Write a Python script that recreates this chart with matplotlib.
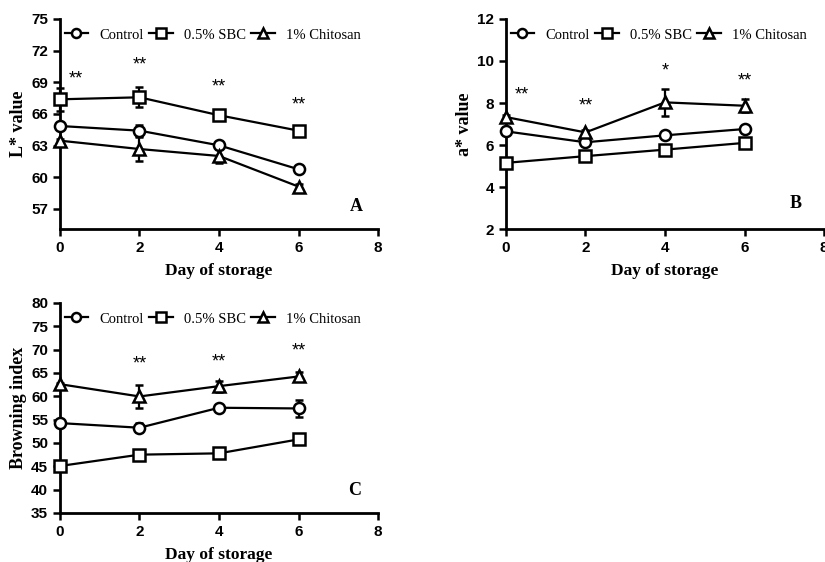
import matplotlib.pyplot as plt
from matplotlib.lines import Line2D
import numpy as np

days = [0, 2, 4, 6]
labels = ['Control', '0.5% SBC', '1% Chitosan']
markers = ['o', 's', '^']

# L* value
L_mean = [[64.86, 64.42, 63.03, 60.76],
          [67.39, 67.58, 65.88, 64.42],
          [63.47, 62.68, 62.02, 59.12]]
L_err = [[0.2, 0.5, 0.2, 0.2],
         [1.1, 0.95, 0.3, 0.2],
         [0.2, 1.1, 0.67, 0.2]]
L_stars = [(0.4, 69.35, '**'), (2, 70.6, '**'), (4, 68.6, '**'), (6, 66.85, '**')]

# a* value
a_mean = [[6.65, 6.13, 6.46, 6.76],
          [5.15, 5.47, 5.78, 6.1],
          [7.33, 6.6, 8.03, 7.87]]
a_err = [[0.12, 0.1, 0.1, 0.15],
         [0.2, 0.1, 0.1, 0.1],
         [0.1, 0.1, 0.66, 0.3]]
a_stars = [(0.4, 8.4, '**'), (2, 7.87, '**'), (4, 9.53, '*'), (6, 9.06, '**')]

# browning index
b_mean = [[54.26, 53.27, 57.55, 57.4],
          [45.07, 47.5, 47.78, 50.77],
          [62.6, 59.97, 62.18, 64.25]]
b_err = [[0.6, 1.0, 0.4, 1.9],
         [0.5, 0.4, 0.4, 0.6],
         [0.3, 2.5, 1.2, 0.9]]
b_stars = [(2, 66.95, '**'), (4, 67.3, '**'), (6, 69.8, '**')]

serif = 'Liberation Serif'
sans = 'Liberation Sans'

fig = plt.figure(figsize=(8.25, 5.62), dpi=100)


def panel(rect, mean, err, stars, ylim, yticks, ylabel, letter, letter_xy):
    ax = fig.add_axes(rect)
    handles = []
    for i in range(3):
        ax.errorbar(days, mean[i], yerr=err[i], color='black', lw=1.6,
                    marker=markers[i], ms=8, mfc='white', mec='black', mew=1.8,
                    capsize=3, capthick=1.6, elinewidth=1.6,
                    clip_on=False, zorder=3)
        # legend entry: plain line + marker, no error bar
        handles.append(Line2D([], [], color='black', lw=1.6, marker=markers[i], ms=6.5,
                              mfc='white', mec='black', mew=1.8, label=labels[i]))
    for x, y, s in stars:
        ax.text(x, y, s, ha='center', va='center', fontsize=13, family=sans)
    ax.text(letter_xy[0], letter_xy[1], letter, fontsize=13, fontweight='bold',
            family=serif, ha='center', va='center')
    ax.set_xlim(0, 8)
    ax.set_ylim(*ylim)
    ax.set_xticks([0, 2, 4, 6, 8])
    ax.set_yticks(yticks)
    ax.spines['top'].set_visible(False)
    ax.spines['right'].set_visible(False)
    ax.spines['left'].set_linewidth(2)
    ax.spines['bottom'].set_linewidth(2)
    ax.tick_params(width=1.8, length=5, labelsize=11)
    for lab in ax.get_xticklabels() + ax.get_yticklabels():
        lab.set_family(sans)
        lab.set_fontweight('bold')
    ax.set_xlabel('Day of storage', family=serif, fontweight='bold', fontsize=12.5, labelpad=6)
    ax.set_ylabel(ylabel, family=serif, fontweight='bold', fontsize=13, labelpad=3)
    ax.legend(handles=handles, loc='center left', bbox_to_anchor=(0.015, 0.924), ncol=3,
              frameon=False, prop={'family': serif, 'size': 10.5}, handlelength=1.6,
              handletextpad=0.8, columnspacing=0.35, borderaxespad=0, borderpad=0)
    return ax


panel([0.0727, 0.5925, 0.3855, 0.3737], L_mean, L_err, L_stars, (55.1, 75),
      [57, 60, 63, 66, 69, 72, 75], 'L* value', 'A', (7.46, 57.2))
panel([0.6133, 0.5925, 0.3855, 0.3737], a_mean, a_err, a_stars, (2, 12),
      [2, 4, 6, 8, 10, 12], 'a* value', 'B', (7.29, 3.22))
panel([0.0727, 0.0872, 0.3855, 0.3737], b_mean, b_err, b_stars, (35, 80),
      [35, 40, 45, 50, 55, 60, 65, 70, 75, 80], 'Browning index', 'C', (7.41, 39.86))

fig.savefig('out.png', dpi=100)
